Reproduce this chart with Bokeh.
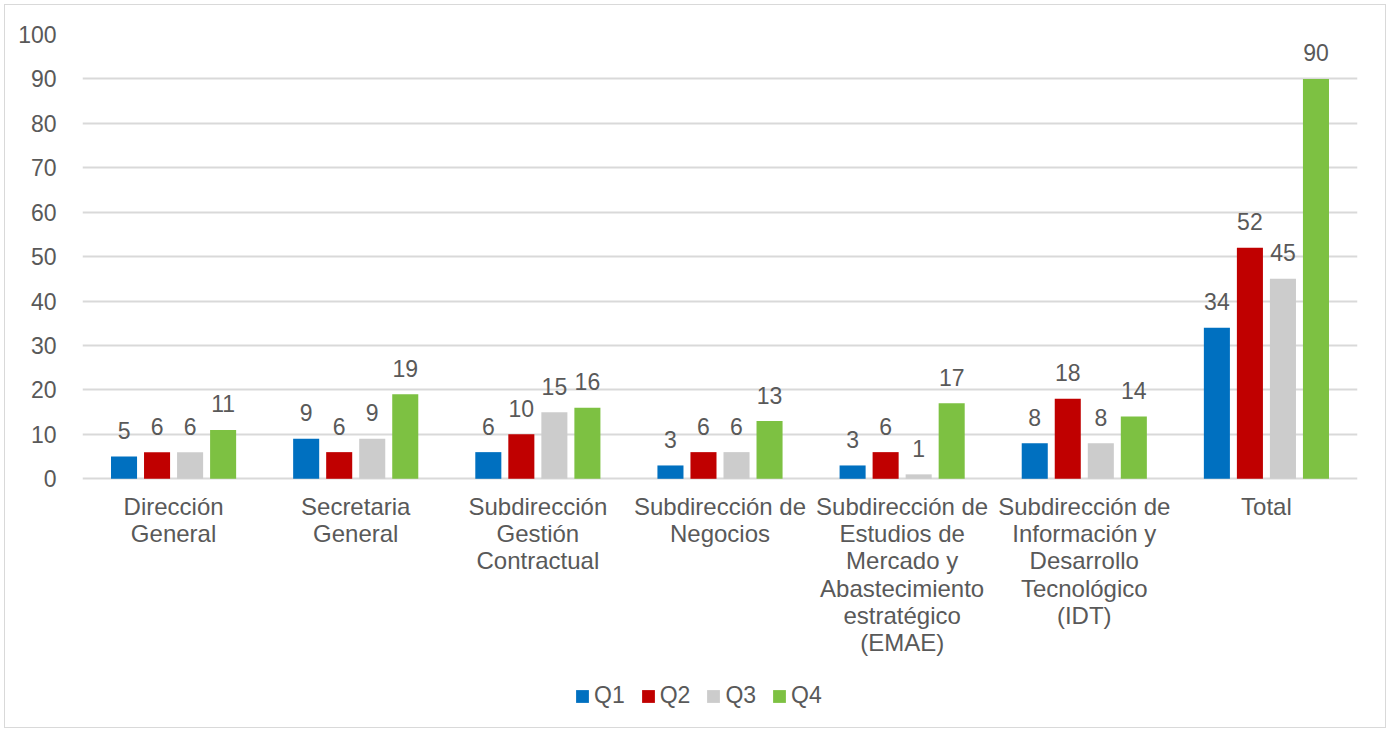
from bokeh.plotting import figure
from bokeh.models import ColumnDataSource, Range1d, FixedTicker, Legend
from bokeh.transform import dodge
from bokeh.core.properties import value, field
from bokeh.embed import file_html
from bokeh.resources import INLINE

categories = ["Dirección\nGeneral", "Secretaria\nGeneral", "Subdirección\nGestión\nContractual",
              "Subdirección de\nNegocios",
              "Subdirección de\nEstudios de\nMercado y\nAbastecimiento\nestratégico\n(EMAE)",
              "Subdirección de\nInformación y\nDesarrollo\nTecnológico\n(IDT)", "Total"]
q1 = [5, 9, 6, 3, 3, 8, 34]
q2 = [6, 6, 10, 6, 6, 18, 52]
q3 = [6, 9, 15, 6, 1, 8, 45]
q4 = [11, 19, 16, 13, 17, 14, 90]
series = ["Q1", "Q2", "Q3", "Q4"]
colors = ["#0070C0", "#C00000", "#CCCCCC", "#7DC142"]
y_ticks = [0, 10, 20, 30, 40, 50, 60, 70, 80, 90, 100]

TXT = "#595959"
FONT = "Liberation Sans"

# category slots on a numeric axis: slot i is centred at i + 0.5
slots = [i + 0.5 for i in range(len(categories))]
src = ColumnDataSource(dict(xc=slots, cat=categories, base=[0] * len(categories),
                            Q1=q1, Q2=q2, Q3=q3, Q4=q4))

# the frame reaches down to the bottom so the category labels and legend live inside it
p = figure(x_range=Range1d(0, len(categories)), y_range=Range1d(-56.43, 100),
           width=1380, height=722, output_backend="svg", toolbar_location=None,
           min_border_left=77, min_border_right=30, min_border_top=29, min_border_bottom=0)
p.styles = {"margin": "4px", "border": "1px solid #D9D9D9", "box-sizing": "content-box"}
p.outline_line_color = None
p.background_fill_color = "white"
p.xaxis.visible = False

offsets = [-0.272, -0.0907, 0.0907, 0.272]
renderers = []
for s, c, off in zip(series, colors, offsets):
    r = p.vbar(x=dodge("xc", off), top=s, width=0.143, source=src,
               fill_color=c, line_color=None)
    renderers.append((s, [r]))
    p.text(x=dodge("xc", off), y=s, text=field(s), source=src,
           text_align="center", text_baseline="alphabetic", y_offset=-26,
           text_font_size="23px", text_color=TXT, text_font=value(FONT))

# category labels under the baseline
p.text(x="xc", y="base", text="cat", source=src, text_align="center", text_baseline="top",
       y_offset=14, text_font_size="24px", text_color=TXT, text_font=value(FONT),
       text_line_height=1.01)

p.yaxis.ticker = FixedTicker(ticks=y_ticks)
p.yaxis.axis_line_color = None
p.yaxis.major_tick_line_color = None
p.yaxis.minor_tick_line_color = None
p.yaxis.major_label_text_font = FONT
p.yaxis.major_label_text_font_size = "23px"
p.yaxis.major_label_text_color = TXT
p.yaxis.major_label_standoff = 20

p.xgrid.grid_line_color = None
p.ygrid.grid_line_color = "#D9D9D9"
p.ygrid.grid_line_width = 2

legend = Legend(items=renderers, orientation="horizontal", location=(492, 20),
                border_line_color=None, background_fill_alpha=0,
                glyph_width=16, glyph_height=16,
                label_text_font=FONT, label_text_font_size="23px", label_text_color=TXT,
                label_standoff=4, spacing=15, padding=0, margin=0)
p.add_layout(legend, "center")

open("out.html", "w").write(file_html(p, INLINE))
